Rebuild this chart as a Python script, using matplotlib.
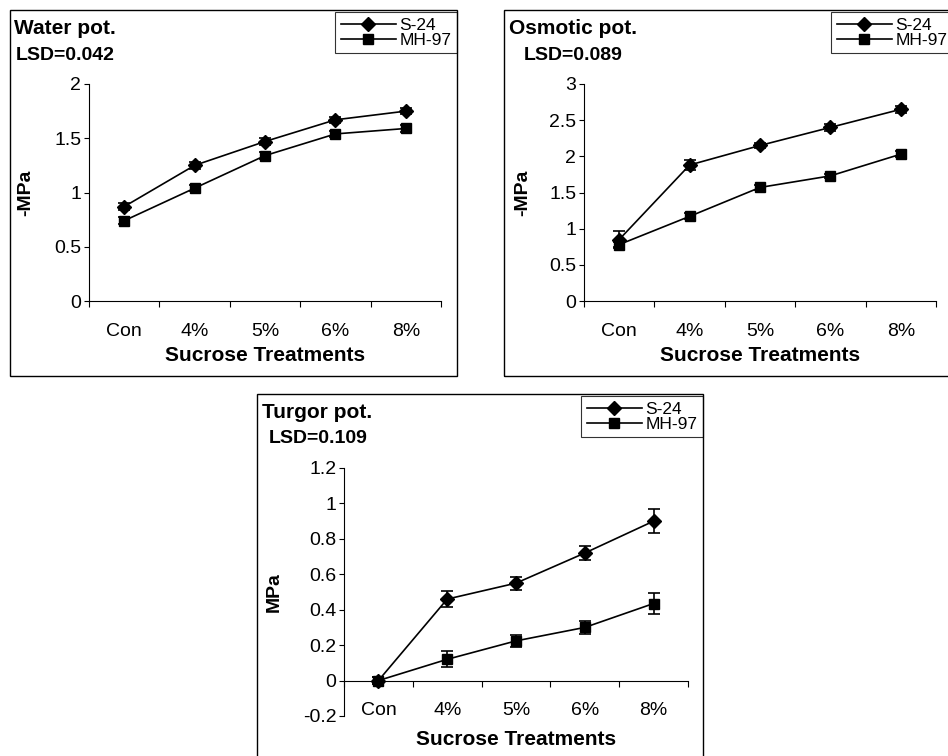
import matplotlib.pyplot as plt
from matplotlib.patches import Rectangle
from matplotlib.lines import Line2D

plt.rcParams['font.family'] = ['Liberation Sans', 'DejaVu Sans']

# Data
treatments = ["Con", "4%", "5%", "6%", "8%"]
series_names = ["S-24", "MH-97"]

# Water potential (-MPa)
water_s24 = [0.87, 1.25, 1.47, 1.67, 1.75]
water_s24_err = [0.03, 0.03, 0.03, 0.03, 0.03]
water_mh97 = [0.74, 1.04, 1.34, 1.54, 1.59]
water_mh97_err = [0.03, 0.03, 0.03, 0.03, 0.03]

# Osmotic potential (-MPa)
osm_s24 = [0.85, 1.88, 2.15, 2.40, 2.65]
osm_s24_err = [0.12, 0.07, 0.04, 0.05, 0.05]
osm_mh97 = [0.78, 1.17, 1.57, 1.73, 2.03]
osm_mh97_err = [0.04, 0.04, 0.03, 0.03, 0.04]

# Turgor potential (MPa)
turgor_s24 = [0.0, 0.46, 0.55, 0.72, 0.90]
turgor_s24_err = [0.02, 0.045, 0.037, 0.04, 0.067]
turgor_mh97 = [0.0, 0.12, 0.224, 0.30, 0.435]
turgor_mh97_err = [0.02, 0.045, 0.035, 0.037, 0.06]

W, H = 948, 756
fig = plt.figure(figsize=(W / 100, H / 100), dpi=100)


def fx(x):
    return x / W


def fy(y):
    return 1 - y / H


def draw_panel(ax, s24, s24_err, mh, mh_err, ylim, yticks, ylabel):
    x = list(range(len(treatments)))
    ax.plot(x, s24, color='black', lw=1.2, marker='D', markersize=7, zorder=3)
    ax.plot(x, mh, color='black', lw=1.2, marker='s', markersize=7, zorder=3)
    ax.errorbar(x, s24, yerr=s24_err, fmt='none', ecolor='black',
                elinewidth=1.2, capsize=4.5, capthick=1.2, zorder=2)
    ax.errorbar(x, mh, yerr=mh_err, fmt='none', ecolor='black',
                elinewidth=1.2, capsize=4.5, capthick=1.2, zorder=2)

    ax.set_xlim(-0.5, len(treatments) - 0.5)
    ax.set_ylim(*ylim)
    ax.set_yticks(yticks)
    ax.set_yticklabels([f"{t:g}" for t in yticks])

    # ticks on category boundaries, labels in between
    ax.set_xticks([i - 0.5 for i in range(len(treatments) + 1)])
    ax.set_xticklabels([])
    ax.set_xticks(x, minor=True)
    ax.set_xticklabels(treatments, minor=True)
    ax.tick_params(axis='x', which='major', direction='out', length=4, width=0.8)
    ax.tick_params(axis='x', which='minor', length=0, pad=15.5, labelsize=14)
    ax.tick_params(axis='y', direction='out', length=3.5, width=0.8, pad=2,
                   labelsize=14)

    for side in ['top', 'right']:
        ax.spines[side].set_visible(False)
    ax.spines['left'].set_linewidth(0.8)
    ax.spines['bottom'].set_linewidth(0.8)
    if ylim[0] < 0:
        ax.spines['bottom'].set_position(('data', 0))

    ax.set_ylabel(ylabel, fontsize=14, fontweight='bold')
    ax.set_xlabel("Sucrose Treatments", fontsize=15, fontweight='bold')


# panel axes in pixel coordinates
ax1 = fig.add_axes([fx(89), fy(301), fx(441 - 89), (301 - 84) / H])
ax2 = fig.add_axes([fx(584), fy(301), fx(936 - 584), (301 - 84) / H])
ax3 = fig.add_axes([fx(344), fy(716), fx(688 - 344), (716 - 468) / H])

draw_panel(ax1, water_s24, water_s24_err, water_mh97, water_mh97_err,
           (0, 2), [0, 0.5, 1, 1.5, 2], "-MPa")
draw_panel(ax2, osm_s24, osm_s24_err, osm_mh97, osm_mh97_err,
           (0, 3), [0, 0.5, 1, 1.5, 2, 2.5, 3], "-MPa")
draw_panel(ax3, turgor_s24, turgor_s24_err, turgor_mh97, turgor_mh97_err,
           (-0.2, 1.2), [-0.2, 0, 0.2, 0.4, 0.6, 0.8, 1, 1.2], "MPa")

# axis label placement
for ax, lx in [(ax1, 34), (ax2, 531), (ax3, 283)]:
    bb = ax.get_position()
    ax.yaxis.set_label_coords((fx(lx) - bb.x0) / bb.width, 0.5)
ax1.xaxis.set_label_coords(0.5, -(346 - 301) / (301 - 84))
ax2.xaxis.set_label_coords(0.5, -(346 - 301) / (301 - 84))
ax3.xaxis.set_label_coords(0.5, -(730 - 716) / (716 - 468))

# outer frames around each panel
for (l, t, r, b) in [(10, 10, 457, 376), (504, 10, 970, 376), (257, 394, 703, 780)]:
    fig.patches.append(Rectangle((fx(l), fy(b)), fx(r - l), (b - t) / H,
                                 transform=fig.transFigure, fill=False,
                                 edgecolor='black', lw=1.0))

# panel titles
titles = [("Water pot.", "LSD=0.042", 14, 28, 16, 55),
          ("Osmotic pot.", "LSD=0.089", 509, 28, 524, 55),
          ("Turgor pot.", "LSD=0.109", 262, 412, 269, 438)]
for name, lsd, x1, y1, x2, y2 in titles:
    fig.text(fx(x1), fy(y1), name, fontsize=15, fontweight='bold', va='center')
    fig.text(fx(x2), fy(y2), lsd, fontsize=14, fontweight='bold', va='center')

# legends
handles = [Line2D([], [], color='black', lw=1.2, marker='D', markersize=7),
           Line2D([], [], color='black', lw=1.2, marker='s', markersize=7)]
for ax, (lx, ly) in [(ax1, (335, 12)), (ax2, (831, 12)), (ax3, (581, 396))]:
    leg = ax.legend(handles, series_names, loc='upper left',
                    bbox_to_anchor=(fx(lx), fy(ly)), bbox_transform=fig.transFigure,
                    fontsize=12.5, frameon=True, fancybox=False, borderpad=0.32,
                    borderaxespad=0, labelspacing=0.0, handlelength=3.2,
                    handletextpad=0.2, numpoints=1)
    leg.get_frame().set_edgecolor('black')
    leg.get_frame().set_linewidth(0.8)

fig.savefig("out.png", dpi=100)
